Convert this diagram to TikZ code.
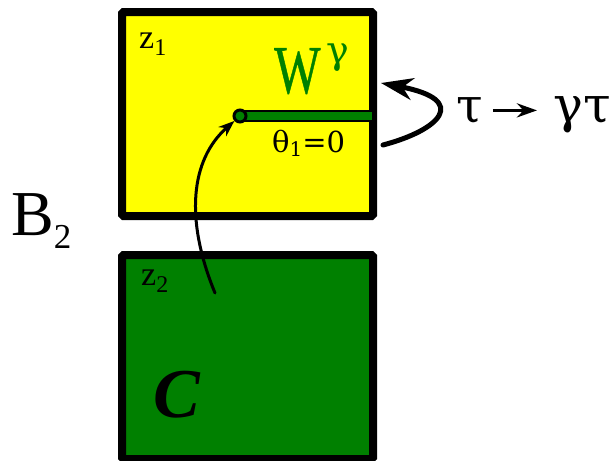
\documentclass[tikz,border=0pt]{standalone}
\usepackage{fontspec}
\setmainfont{Liberation Serif}
\newfontfamily\grk{DejaVu Serif}
\newfontfamily\wfont[FakeBold=0.8]{Liberation Serif}
\usetikzlibrary{arrows.meta}
\definecolor{ylw}{RGB}{255,255,0}
\definecolor{grn}{RGB}{0,128,0}
\newcommand{\fsz}[1]{\fontsize{#1}{#1}\selectfont}
\begin{document}
\begin{tikzpicture}[x=1pt,y=-1pt,
  panel/.style={draw=black,line width=8pt,minimum width=251pt,minimum height=204pt,inner sep=0pt,rounded corners=1.5pt},
  lbl/.style={inner sep=0pt,anchor=base west},
  conn/.style={line width=3pt,line cap=round},
]
\useasboundingbox (0,0) rectangle (614,461);
% panels
\node[panel,fill=ylw] (b1) at (247.5,114) {};
\node[panel,fill=grn] (b2) at (247.5,357) {};
% cut (green bar) and branch point
\coordinate (ptc) at (240,116);
\coordinate (barend) at (372,116);
\draw[line width=12pt,black] (ptc) -- (barend);
\draw[line width=8.5pt,grn] (ptc) -- (barend);
\node[circle,draw=black,fill=grn,line width=3pt,minimum size=12pt,inner sep=0pt] (pt) at (ptc) {};
% labels
\node[lbl] (z1) at (139,48) {\fsz{34}z\raisebox{-7pt}{\fsz{24}1}};
\node[lbl] (z2) at (141,285) {\fsz{34}z\raisebox{-7pt}{\fsz{24}2}};
\node[lbl,text=grn] (W) at (274,93) {\scalebox{0.86}[1.2]{\wfont\fsz{57}W}\kern6pt\raisebox{30pt}{\grk\fsz{38}γ}};
\node[lbl] (th) at (272,152) {\grk\fsz{29}θ\raisebox{-4pt}{\fsz{20}1}=0};
\node[lbl] (B) at (11,235) {\fsz{64}B\raisebox{-13pt}{\fsz{35}2}};
\node[lbl] (C) at (153,417) {\fsz{70}\bfseries\itshape C};
\node[lbl] (t1) at (456,122) {\grk\fsz{48}τ};
\node[lbl] (t2) at (553,122) {\grk\fsz{50}γτ};
% arrows
\coordinate (cs) at (215,293);
\draw[conn,-{Stealth[length=16pt,width=12pt]}] (cs) .. controls (185,220) and (190,160) .. (pt);
\coordinate (rs) at (383,145);
\coordinate (re) at (381,83);
\draw[line width=5pt,line cap=round,-{Stealth[length=32pt,width=22pt,inset=10pt]}] (rs) .. controls (440,130) and (470,100) .. (re);
\draw[line width=3.5pt,-{Stealth[length=20pt,width=14pt]}] ([xshift=10pt]t1.east) -- ([xshift=-16pt]t1.east -| t2.west);
\end{tikzpicture}
\end{document}
